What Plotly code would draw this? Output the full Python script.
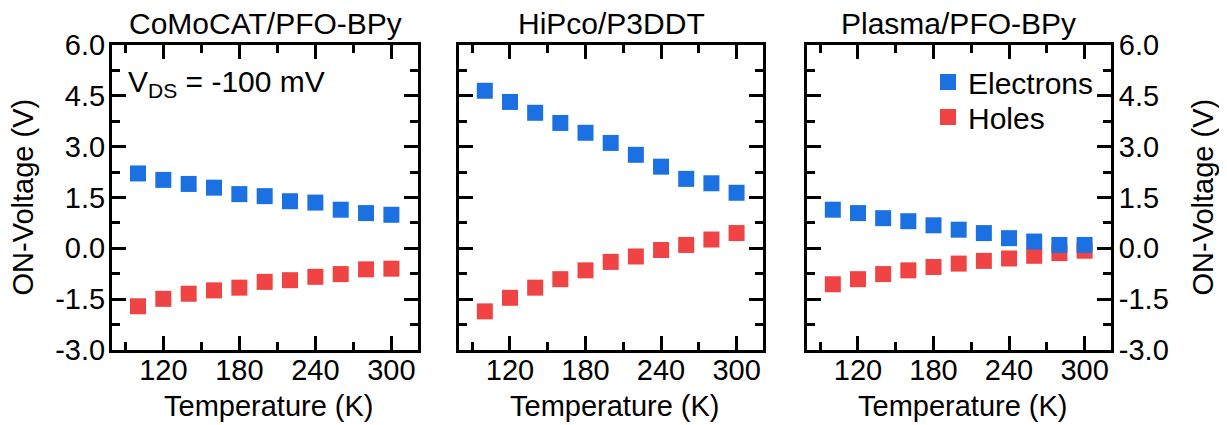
import plotly.graph_objects as go

temps = [100, 120, 140, 160, 180, 200, 220, 240, 260, 280, 300]

panel_titles = ["CoMoCAT/PFO-BPy", "HiPco/P3DDT", "Plasma/PFO-BPy"]

electrons_comocat = [2.21, 2.02, 1.90, 1.79, 1.60, 1.54, 1.39, 1.35, 1.14, 1.04, 0.99]
holes_comocat = [-1.71, -1.49, -1.34, -1.24, -1.16, -0.99, -0.94, -0.84, -0.76, -0.62, -0.60]

electrons_hipco = [4.65, 4.32, 4.00, 3.70, 3.41, 3.11, 2.76, 2.41, 2.05, 1.92, 1.64]
holes_hipco = [-1.86, -1.46, -1.16, -0.91, -0.65, -0.40, -0.24, -0.05, 0.10, 0.26, 0.45]

electrons_plasma = [1.14, 1.04, 0.89, 0.80, 0.68, 0.55, 0.45, 0.30, 0.20, 0.10, 0.10]
holes_plasma = [-1.06, -0.91, -0.76, -0.65, -0.55, -0.45, -0.37, -0.30, -0.22, -0.14, -0.07]

electrons = [electrons_comocat, electrons_hipco, electrons_plasma]
holes = [holes_comocat, holes_hipco, holes_plasma]

x_major = [120, 180, 240, 300]
x_minor = [90, 150, 210, 270]
y_major = [-3.0, -1.5, 0.0, 1.5, 3.0, 4.5, 6.0]
y_labels = ["-3.0", "-1.5", "0.0", "1.5", "3.0", "4.5", "6.0"]
y_minor = [-2.25, -0.75, 0.75, 2.25, 3.75, 5.25]

BLUE = "#1B71E2"
RED = "#F04343"
FONT = "Liberation Sans, Arial, sans-serif"
OFF = 8                      # page body margin offset
W, H = 1227 - OFF, 425 - OFF
TICK_FS = 29
TITLE_FS = 30


def px_x(x):
    return (x - OFF) / W


def px_y(y):
    return 1 - (y - OFF) / H


fig = go.Figure()

x_domains_px = [(112, 418), (459, 763), (807, 1111)]
y_top, y_bot = 45, 350

for i in range(3):
    xa = "x" if i == 0 else f"x{i+1}"
    ya = "y" if i == 0 else f"y{i+1}"
    show = (i == 2)
    fig.add_trace(go.Scatter(
        x=temps, y=holes[i], mode="markers", name="Holes",
        marker=dict(symbol="square", size=16, color=RED, line=dict(width=0)),
        xaxis=xa, yaxis=ya, showlegend=show, legend="legend2"))
    fig.add_trace(go.Scatter(
        x=temps, y=electrons[i], mode="markers", name="Electrons",
        marker=dict(symbol="square", size=16, color=BLUE, line=dict(width=0)),
        xaxis=xa, yaxis=ya, showlegend=show, legend="legend"))

layout = {}
for i in range(3):
    xkey = "xaxis" if i == 0 else f"xaxis{i+1}"
    ykey = "yaxis" if i == 0 else f"yaxis{i+1}"
    x0, x1 = x_domains_px[i]
    layout[xkey] = dict(
        domain=[px_x(x0), px_x(x1)], range=[79.5, 321], anchor="y" if i == 0 else f"y{i+1}",
        tickmode="array", tickvals=x_major, ticks="inside", ticklen=14, tickwidth=3,
        tickcolor="black", showline=True, linewidth=3, linecolor="black", mirror="ticks",
        showgrid=False, zeroline=False, automargin=False, ticklabelstandoff=-8,
        minor=dict(tickmode="array", tickvals=x_minor, ticks="inside", ticklen=8,
                   tickwidth=3, tickcolor="black", showgrid=False),
        tickfont=dict(family=FONT, size=TICK_FS, color="black"),
    )
    yd = dict(
        domain=[px_y(y_bot), px_y(y_top)], range=[-3, 6], anchor="x" if i == 0 else f"x{i+1}",
        tickmode="array", tickvals=y_major, ticktext=y_labels, ticks="inside", ticklen=14,
        tickwidth=3, tickcolor="black", showline=True, linewidth=3, linecolor="black",
        mirror="ticks", showgrid=False, zeroline=False, automargin=False,
        minor=dict(tickmode="array", tickvals=y_minor, ticks="inside", ticklen=8,
                   tickwidth=3, tickcolor="black", showgrid=False),
        tickfont=dict(family=FONT, size=TICK_FS, color="black"),
    )
    if i == 0:
        yd["ticklabelstandoff"] = -2
    elif i == 1:
        yd["showticklabels"] = False
    else:
        yd["side"] = "right"
        yd["ticklabelstandoff"] = -1
    layout[ykey] = yd

annotations = []
for i in range(3):
    x0, x1 = x_domains_px[i]
    annotations.append(dict(
        text=panel_titles[i], x=px_x((x0 + x1) / 2), y=px_y(24), xref="paper", yref="paper",
        xanchor="center", yanchor="middle", showarrow=False,
        font=dict(family=FONT, size=TITLE_FS, color="black")))
    annotations.append(dict(
        text="Temperature (K)", x=px_x((x0 + x1) / 2 + 4), y=px_y(406), xref="paper", yref="paper",
        xanchor="center", yanchor="middle", showarrow=False,
        font=dict(family=FONT, size=TICK_FS, color="black")))
for xc in (22, 1202):
    annotations.append(dict(
        text="ON-Voltage (V)", x=px_x(xc), y=px_y((y_top + y_bot) / 2), xref="paper", yref="paper",
        xanchor="center", yanchor="middle", showarrow=False, textangle=-90,
        font=dict(family=FONT, size=TICK_FS, color="black")))
annotations.append(dict(
    text="V<sub>DS</sub> = -100 mV", x=px_x(126), y=px_y(84), xref="paper", yref="paper",
    xanchor="left", yanchor="middle", showarrow=False,
    font=dict(family=FONT, size=TITLE_FS, color="black")))

leg_common = dict(xanchor="left", yanchor="middle", bgcolor="rgba(0,0,0,0)",
                  font=dict(family=FONT, size=TITLE_FS, color="black"), itemwidth=30)

fig.update_layout(
    width=W, height=H,
    margin=dict(l=0, r=0, t=0, b=0, autoexpand=False),
    paper_bgcolor="white", plot_bgcolor="white",
    font=dict(family=FONT, size=TICK_FS, color="black"),
    showlegend=True,
    legend=dict(x=px_x(928), y=px_y(82), **leg_common),
    legend2=dict(x=px_x(928), y=px_y(117), **leg_common),
    annotations=annotations,
    **layout,
)

fig.write_html("out.html")
